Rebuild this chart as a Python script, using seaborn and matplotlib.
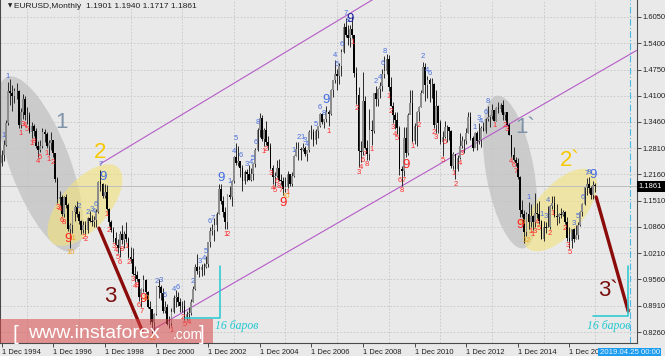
import matplotlib
matplotlib.use("Agg")
import numpy as np
import pandas as pd
import matplotlib.pyplot as plt
import matplotlib.transforms as mtransforms
from matplotlib.patches import Ellipse, Rectangle
import seaborn as sns

# ---- monthly EURUSD bars, index 0 = Dec 1994, last = Dec 2017 ----
first_open = 1.245
closes = [
    1.263,
    1.288, 1.342, 1.421, 1.417, 1.409, 1.423, 1.423, 1.338, 1.369, 1.402, 1.363, 1.363,  # 1995
    1.321, 1.335, 1.322, 1.287, 1.277, 1.285, 1.320, 1.316, 1.286, 1.293, 1.300, 1.268,  # 1996
    1.204, 1.155, 1.161, 1.119, 1.160, 1.140, 1.080, 1.090, 1.122, 1.135, 1.119, 1.100,  # 1997
    1.078, 1.090, 1.078, 1.107, 1.100, 1.097, 1.102, 1.122, 1.196, 1.193, 1.163, 1.173,  # 1998
    1.131, 1.098, 1.078, 1.058, 1.042, 1.034, 1.068, 1.054, 1.068, 1.056, 1.012, 1.007,  # 1999
    0.969, 0.966, 0.957, 0.912, 0.932, 0.954, 0.924, 0.887, 0.882, 0.850, 0.871, 0.939,  # 2000
    0.937, 0.922, 0.878, 0.889, 0.846, 0.848, 0.875, 0.911, 0.913, 0.901, 0.890, 0.890,  # 2001
    0.860, 0.870, 0.872, 0.900, 0.933, 0.987, 0.978, 0.979, 0.987, 0.988, 0.994, 1.049,  # 2002
    1.077, 1.078, 1.091, 1.117, 1.180, 1.149, 1.123, 1.098, 1.165, 1.159, 1.199, 1.259,  # 2003
    1.245, 1.248, 1.231, 1.199, 1.221, 1.218, 1.202, 1.217, 1.241, 1.275, 1.326, 1.356,  # 2004
    1.303, 1.325, 1.296, 1.287, 1.232, 1.210, 1.212, 1.232, 1.202, 1.199, 1.180, 1.184,  # 2005
    1.216, 1.193, 1.211, 1.261, 1.279, 1.279, 1.276, 1.281, 1.267, 1.276, 1.321, 1.320,  # 2006
    1.301, 1.323, 1.335, 1.366, 1.345, 1.354, 1.369, 1.364, 1.425, 1.449, 1.463, 1.459,  # 2007
    1.485, 1.518, 1.580, 1.560, 1.554, 1.576, 1.560, 1.467, 1.411, 1.274, 1.270, 1.397,  # 2008
    1.280, 1.267, 1.325, 1.324, 1.416, 1.403, 1.426, 1.434, 1.464, 1.472, 1.500, 1.432,  # 2009
    1.386, 1.362, 1.351, 1.330, 1.229, 1.223, 1.305, 1.268, 1.362, 1.393, 1.299, 1.336,  # 2010
    1.369, 1.383, 1.417, 1.481, 1.438, 1.450, 1.439, 1.439, 1.339, 1.386, 1.344, 1.296,  # 2011
    1.308, 1.334, 1.334, 1.324, 1.236, 1.267, 1.230, 1.257, 1.286, 1.298, 1.299, 1.319,  # 2012
    1.358, 1.306, 1.282, 1.317, 1.299, 1.301, 1.330, 1.322, 1.352, 1.358, 1.359, 1.375,  # 2013
    1.349, 1.380, 1.377, 1.387, 1.363, 1.369, 1.339, 1.313, 1.263, 1.252, 1.245, 1.210,  # 2014
    1.129, 1.119, 1.073, 1.118, 1.099, 1.114, 1.098, 1.121, 1.117, 1.100, 1.057, 1.086,  # 2015
    1.083, 1.087, 1.138, 1.145, 1.113, 1.110, 1.117, 1.115, 1.124, 1.098, 1.059, 1.052,  # 2016
    1.080, 1.057, 1.065, 1.090, 1.124, 1.143, 1.184, 1.191, 1.181, 1.164, 1.1901, 1.1861,  # 2017
]
highs = [
    1.275,
    1.300, 1.350, 1.445, 1.452, 1.436, 1.430, 1.442, 1.425, 1.380, 1.415, 1.410, 1.382,
    1.370, 1.345, 1.340, 1.330, 1.298, 1.300, 1.330, 1.328, 1.320, 1.300, 1.320, 1.302,
    1.268, 1.210, 1.175, 1.165, 1.162, 1.168, 1.145, 1.095, 1.125, 1.140, 1.150, 1.125,
    1.102, 1.101, 1.100, 1.110, 1.125, 1.116, 1.112, 1.130, 1.200, 1.227, 1.195, 1.192,
    1.190, 1.133, 1.102, 1.087, 1.073, 1.056, 1.077, 1.090, 1.075, 1.098, 1.060, 1.036,
    1.035, 0.990, 0.977, 0.958, 0.936, 0.966, 0.958, 0.927, 0.903, 0.884, 0.872, 0.940,
    0.958, 0.942, 0.935, 0.904, 0.895, 0.866, 0.885, 0.918, 0.930, 0.925, 0.910, 0.904,
    0.906, 0.878, 0.887, 0.907, 0.940, 0.995, 1.020, 0.989, 0.995, 0.996, 1.014, 1.049,
    1.087, 1.094, 1.109, 1.122, 1.193, 1.193, 1.162, 1.135, 1.167, 1.187, 1.202, 1.261,
    1.293, 1.287, 1.250, 1.239, 1.227, 1.228, 1.238, 1.232, 1.244, 1.282, 1.331, 1.367,
    1.363, 1.330, 1.349, 1.310, 1.294, 1.239, 1.223, 1.251, 1.254, 1.216, 1.209, 1.209,
    1.224, 1.215, 1.222, 1.263, 1.297, 1.295, 1.284, 1.294, 1.287, 1.277, 1.326, 1.337,
    1.329, 1.328, 1.336, 1.368, 1.368, 1.354, 1.385, 1.375, 1.427, 1.450, 1.498, 1.476,
    1.492, 1.525, 1.591, 1.602, 1.584, 1.585, 1.604, 1.561, 1.482, 1.433, 1.298, 1.470,
    1.409, 1.302, 1.378, 1.350, 1.418, 1.434, 1.430, 1.444, 1.477, 1.508, 1.514, 1.512,
    1.457, 1.396, 1.370, 1.369, 1.335, 1.237, 1.334, 1.333, 1.368, 1.425, 1.424, 1.343,
    1.373, 1.386, 1.425, 1.494, 1.492, 1.460, 1.454, 1.453, 1.441, 1.424, 1.388, 1.351,
    1.323, 1.349, 1.339, 1.327, 1.326, 1.272, 1.239, 1.264, 1.317, 1.310, 1.304, 1.331,
    1.370, 1.371, 1.310, 1.320, 1.324, 1.342, 1.335, 1.346, 1.356, 1.384, 1.362, 1.389,
    1.374, 1.382, 1.395, 1.392, 1.399, 1.370, 1.371, 1.343, 1.314, 1.284, 1.260, 1.257,
    1.212, 1.153, 1.128, 1.122, 1.147, 1.142, 1.115, 1.171, 1.145, 1.150, 1.104, 1.100,
    1.099, 1.138, 1.141, 1.162, 1.162, 1.142, 1.121, 1.133, 1.128, 1.126, 1.110, 1.087,
    1.080, 1.083, 1.091, 1.099, 1.126, 1.146, 1.185, 1.207, 1.209, 1.188, 1.200, 1.1940,
]
lows = [
    1.236,
    1.250, 1.285, 1.338, 1.388, 1.372, 1.393, 1.402, 1.330, 1.330, 1.352, 1.350, 1.340,
    1.318, 1.305, 1.310, 1.281, 1.260, 1.270, 1.280, 1.296, 1.280, 1.265, 1.275, 1.258,
    1.198, 1.145, 1.140, 1.113, 1.110, 1.133, 1.075, 1.035, 1.070, 1.100, 1.110, 1.092,
    1.068, 1.072, 1.068, 1.070, 1.097, 1.088, 1.085, 1.085, 1.120, 1.176, 1.157, 1.158,
    1.128, 1.089, 1.073, 1.049, 1.041, 1.022, 1.011, 1.043, 1.035, 1.049, 1.009, 0.998,
    0.968, 0.950, 0.953, 0.904, 0.888, 0.925, 0.920, 0.885, 0.845, 0.823, 0.828, 0.868,
    0.911, 0.905, 0.873, 0.873, 0.844, 0.837, 0.841, 0.872, 0.887, 0.890, 0.875, 0.875,
    0.857, 0.856, 0.862, 0.869, 0.900, 0.931, 0.969, 0.962, 0.965, 0.968, 0.985, 0.986,
    1.037, 1.067, 1.051, 1.077, 1.117, 1.143, 1.111, 1.080, 1.080, 1.155, 1.137, 1.195,
    1.239, 1.237, 1.209, 1.176, 1.191, 1.200, 1.201, 1.200, 1.201, 1.235, 1.274, 1.308,
    1.298, 1.285, 1.289, 1.276, 1.229, 1.193, 1.187, 1.210, 1.199, 1.189, 1.164, 1.173,
    1.183, 1.186, 1.188, 1.209, 1.262, 1.252, 1.252, 1.273, 1.262, 1.249, 1.270, 1.303,
    1.287, 1.292, 1.307, 1.333, 1.340, 1.330, 1.345, 1.335, 1.362, 1.407, 1.443, 1.424,
    1.440, 1.460, 1.517, 1.555, 1.535, 1.531, 1.553, 1.457, 1.390, 1.233, 1.246, 1.263,
    1.278, 1.252, 1.251, 1.289, 1.318, 1.385, 1.385, 1.404, 1.422, 1.455, 1.464, 1.421,
    1.384, 1.344, 1.327, 1.316, 1.214, 1.188, 1.213, 1.258, 1.263, 1.369, 1.297, 1.292,
    1.287, 1.349, 1.383, 1.416, 1.398, 1.405, 1.394, 1.405, 1.331, 1.318, 1.319, 1.292,
    1.262, 1.307, 1.297, 1.301, 1.231, 1.229, 1.204, 1.224, 1.254, 1.280, 1.269, 1.290,
    1.317, 1.302, 1.274, 1.287, 1.275, 1.292, 1.284, 1.322, 1.319, 1.348, 1.333, 1.353,
    1.349, 1.347, 1.368, 1.370, 1.350, 1.350, 1.338, 1.313, 1.259, 1.250, 1.236, 1.205,
    1.110, 1.110, 1.046, 1.064, 1.081, 1.087, 1.079, 1.086, 1.109, 1.094, 1.056, 1.052,
    1.071, 1.085, 1.082, 1.131, 1.110, 1.091, 1.096, 1.108, 1.112, 1.093, 1.052, 1.035,
    1.034, 1.049, 1.057, 1.057, 1.088, 1.112, 1.140, 1.164, 1.169, 1.155, 1.155, 1.1717,
]

price_ticks = [0.8260, 0.8910, 0.9560, 1.0210, 1.0860, 1.1510, 1.2160,
               1.2810, 1.3460, 1.4100, 1.4750, 1.5400, 1.6050]
date_labels = ["1 Dec 1994", "1 Dec 1996", "1 Dec 1998", "1 Dec 2000", "1 Dec 2002",
               "1 Dec 2004", "1 Dec 2006", "1 Dec 2008", "1 Dec 2010", "1 Dec 2012",
               "1 Dec 2014", "1 Dec 2016"]
future_bars = 16
future_label = "2019.04.25 00:00"

# TD-style counts: (bar index, text)
red_counts = [(9, "1"), (10, "3"), (11, "4"), (12, "5"), (14, "1"), (15, "8"), (17, "4"),
              (18, "5"), (21, "1"), (22, "1"), (24, "2"), (26, "3"), (27, "4"), (28, "6"),
              (29, "8"), (38, "2"), (39, "2"), (49, "1"), (50, "2"), (52, "3"), (53, "4"),
              (54, "5"), (55, "6"), (56, "8"), (58, "1"), (59, "2"), (61, "3"), (62, "4"),
              (63, "8"), (64, "6"), (65, "7"), (79, "1"), (84, "2"), (85, "5"), (87, "4"),
              (104, "1"), (105, "2"), (122, "1"), (123, "2"), (125, "3"), (126, "4"),
              (127, "5"), (128, "6"), (129, "8"), (130, "7"), (133, "1"), (152, "1"),
              (163, "1"), (165, "2"), (166, "3"), (167, "4"), (168, "6"), (169, "7"),
              (170, "8"), (172, "1"), (180, "1"), (181, "2"), (182, "3"), (183, "4"),
              (184, "5"), (185, "6"), (186, "8"), (187, "7"), (191, "1"), (194, "2"),
              (201, "2"), (202, "3"), (205, "5"), (206, "6"), (210, "1"), (211, "2"),
              (213, "4"), (214, "3"), (229, "1"), (234, "2"), (235, "3"), (237, "4"),
              (238, "6"), (239, "7"), (246, "1"), (247, "1"), (248, "3"), (249, "4"),
              (250, "5"), (255, "2"), (256, "1"), (262, "2"), (263, "3"), (264, "5")]
blue_counts = [(1, "1"), (3, "1"), (36, "2"), (40, "2"), (42, "3"), (43, "4"), (44, "6"),
               (46, "7"), (72, "2"), (74, "3"), (76, "5"), (80, "4"), (82, "6"), (89, "2"),
               (92, "3"), (94, "4"), (95, "5"), (97, "6"), (98, "7"), (106, "1"),
               (108, "4"), (109, "5"), (111, "6"), (114, "3"), (116, "4"), (117, "5"),
               (118, "6"), (119, "8"), (136, "1"), (138, "2"), (140, "1"), (141, "3"),
               (142, "4"), (146, "5"), (148, "6"), (150, "8"), (155, "4"), (156, "5"),
               (158, "6"), (160, "7"), (161, "8"), (174, "2"), (176, "4"), (177, "6"),
               (178, "8"), (196, "2"), (198, "4"), (199, "6"), (220, "1"), (222, "3"),
               (223, "4"), (225, "6"), (226, "8"), (245, "1"), (251, "1"), (253, "3"),
               (254, "4"), (266, "3"), (268, "5"), (270, "6"), (272, "7"), (273, "8")]
orange_counts = [(32, "10"), (33, "11"), (67, "10"), (70, "11"), (132, "10"), (242, "10"),
                 (244, "12")]
big_nines = [(31, "low", "#ff2020"), (47, "high", "#3d6be0"), (66, "low", "#ff2020"),
             (102, "high", "#3d6be0"), (131, "low", "#ff2020"), (151, "high", "#3d6be0"),
             (162, "high", "#2020a0"), (188, "low", "#ff2020"), (241, "low", "#ff2020"),
             (275, "high", "#3d6be0")]

# wave marks drawn on the chart: (bar index, price)
line_3 = ([45.3, 65.3], [1.083, 0.831])
line_3b = ([276.4, 291.3], [1.160, 0.878])
chan_top = ([45.8, 200.0], [1.2415, 1.736])
chan_bot = ([70.0, 300.0], [0.831, 1.537])
box_1 = ([85.3, 101.6, 101.6], [0.861, 0.861, 0.989])
box_2 = ([275.0, 291.3, 291.3], [0.866, 0.866, 0.989])

# ---- build the frame ----
n = len(closes)
df = pd.DataFrame({"idx": np.arange(n), "close": closes, "high": highs, "low": lows})
df["open"] = [first_open] + closes[:-1]
df["up"] = df["close"] >= df["open"]
last = df.iloc[-1]
future_idx = n - 1 + future_bars

bg = "#e9e9e9"
sns.set_theme(style="ticks", rc={"axes.facecolor": bg, "figure.facecolor": bg})
plt.rcParams["font.family"] = ["Liberation Sans", "DejaVu Sans"]

fig = plt.figure(figsize=(6.65, 3.56), dpi=100)
ax = fig.add_axes([0.0, 13 / 356, 637 / 665, 343 / 356])
ax.set_xlim(-0.7, 295.4)
ax.set_ylim(0.799, 1.647)

# grid
ax.set_xticks(np.arange(len(date_labels)) * 24)
ax.set_xticks(np.arange(len(date_labels)) * 24 + 12, minor=True)
ax.set_yticks(price_ticks)
ax.grid(False)
ax.grid(True, which="minor", axis="x", color="#c6c6c6", lw=0.6, ls=(0, (2, 2)))
ax.grid(True, which="major", axis="y", color="#c6c6c6", lw=0.6, ls=(0, (2, 2)))
ax.tick_params(axis="x", which="minor", length=0)

# ellipses (size in pixels, centred on a chart point)
def ellipse(cx, cy, w, h, ang, color, alpha):
    tr = fig.dpi_scale_trans + mtransforms.ScaledTranslation(cx, cy, ax.transData)
    ax.add_patch(Ellipse((0, 0), w / 100, h / 100, angle=ang, transform=tr,
                         facecolor=color, edgecolor="none", alpha=alpha, zorder=1))

ellipse(17.9, 1.2415, 186, 60, -69.3, "#c4c4c4", 0.8)
ellipse(38.8, 1.140, 100, 48, 49, "#f2e27a", 0.6)
ellipse(236.4, 1.2217, 155, 48, -80, "#c4c4c4", 0.8)
ellipse(259.6, 1.1277, 100, 48, 50, "#f2e27a", 0.6)

# current price line and future marker
ax.axhline(last["close"], color="#bdbdbd", lw=0.7, zorder=1)
ax.axvline(future_idx, color="#4cb8e6", lw=0.8, ls=(0, (6, 2, 1, 2)), zorder=2)

# channel
sns.lineplot(x=chan_top[0], y=chan_top[1], ax=ax, color="#b45cc8", lw=0.8, zorder=2)
sns.lineplot(x=chan_bot[0], y=chan_bot[1], ax=ax, color="#b45cc8", lw=0.8, zorder=2)

# candles
ax.vlines(df["idx"], df["low"], df["high"], color="#2a2a2a", lw=0.7, zorder=3)
for is_up, col in [(True, "#8c8c8c"), (False, "#000000")]:
    d = df[df["up"] == is_up]
    ax.bar(d["idx"], d["close"] - d["open"], bottom=d["open"], width=0.8,
           color=col, linewidth=0, zorder=4)

# counts
for i, t in red_counts:
    ax.annotate(t, (i, lows[i]), xytext=(0, -1), textcoords="offset points",
                ha="center", va="top", fontsize=5.5, color="#ff2a2a", zorder=5)
for i, t in orange_counts:
    ax.annotate(t, (i, lows[i]), xytext=(0, -1), textcoords="offset points",
                ha="center", va="top", fontsize=5.5, color="#f5a623", zorder=5)
for i, t in blue_counts:
    ax.annotate(t, (i, highs[i]), xytext=(0, 1), textcoords="offset points",
                ha="center", va="bottom", fontsize=5.5, color="#4a70dc", zorder=5)
for i, side, col in big_nines:
    if side == "low":
        ax.annotate("9", (i, lows[i]), xytext=(0, -1), textcoords="offset points",
                    ha="center", va="top", fontsize=9.5, color=col, zorder=6)
    else:
        ax.annotate("9", (i, highs[i]), xytext=(0, 0), textcoords="offset points",
                    ha="center", va="bottom", fontsize=9.5, color=col, zorder=6)

# wave lines and labels
sns.lineplot(x=line_3[0], y=line_3[1], ax=ax, color="#8b0a0a", lw=2.4, zorder=6)
sns.lineplot(x=line_3b[0], y=line_3b[1], ax=ax, color="#8b0a0a", lw=2.4, zorder=6)
ax.plot(box_1[0], box_1[1], color="#22c8d0", lw=1.1, zorder=6)
ax.plot(box_2[0], box_2[1], color="#22c8d0", lw=1.1, zorder=6)
for x0, y0 in [(99.3, 0.840), (272.2, 0.842)]:
    ax.text(x0, y0, "16 баров", fontsize=8.5, style="italic", family="Liberation Serif",
            color="#22c8d0", va="center", ha="left", zorder=7)

wave_labels = [(27.7, 1.345, "1", "#7f93a8"), (45.8, 1.271, "2", "#f5c800"),
               (50.4, 0.913, "3", "#7a0e0e"), (243.5, 1.333, "1`", "#7f93a8"),
               (264.3, 1.251, "2`", "#f5c800"), (281.8, 0.930, "3`", "#7a0e0e")]
for x0, y0, t, col in wave_labels:
    ax.text(x0, y0, t, fontsize=16, color=col, ha="center", va="center", zorder=7)

# axes look
ax.spines["top"].set_visible(False)
for s in ["left", "right", "bottom"]:
    ax.spines[s].set_color("#4a4a4a")
    ax.spines[s].set_linewidth(0.8)
ax.yaxis.tick_right()
ax.set_yticklabels([f"{p:.4f}" for p in price_ticks])
ax.set_xticklabels(date_labels, ha="left")
ax.tick_params(axis="both", which="major", labelsize=5.4, length=3, width=0.7,
               color="#4a4a4a", labelcolor="#202020", pad=1.2)
ax.set_xlabel("")
ax.set_ylabel("")

# price tag and date tag
btr = mtransforms.blended_transform_factory(ax.transAxes, ax.transData)
ax.text(1.003, last["close"], f"{last['close']:.4f}", transform=btr, fontsize=5.4,
        color="white", va="center", ha="left", zorder=10, clip_on=False,
        bbox=dict(boxstyle="square,pad=0.3", fc="#000000", ec="none"))
dtr = mtransforms.blended_transform_factory(ax.transData, ax.transAxes)
ax.text(future_idx, -0.028, future_label, transform=dtr, fontsize=5.6, color="#e8f6ff",
        va="center", ha="center", zorder=10, clip_on=False,
        bbox=dict(boxstyle="square,pad=0.2", fc="#1e9cf0", ec="none"))

# title line
fig.text(8 / 665, 1 - 6 / 356, "▼", fontsize=4, color="#202020", va="center",
         family="DejaVu Sans")
fig.text(14 / 665, 1 - 6 / 356,
         f"EURUSD,Monthly  {last['open']:.4f} {last['high']:.4f} {last['low']:.4f} {last['close']:.4f}",
         fontsize=6, color="#202020", va="center")

# watermark
fig.patches.append(Rectangle((0, 13 / 356), 213 / 665, 24 / 356, transform=fig.transFigure,
                             facecolor="#d84848", alpha=0.55, edgecolor="none", zorder=20))
fig.text(13 / 665, 22 / 356, "[", fontsize=15, color="white", va="center", zorder=21)
fig.text(28 / 665, 22 / 356, "www.instaforex", fontsize=14, color="white", va="center",
         zorder=21)
fig.text(173 / 665, 21 / 356, ".com", fontsize=10, color="white", va="center", zorder=21)
fig.text(199 / 665, 22 / 356, "]", fontsize=15, color="white", va="center", zorder=21)

fig.savefig("out.png", dpi=100, facecolor=bg)
